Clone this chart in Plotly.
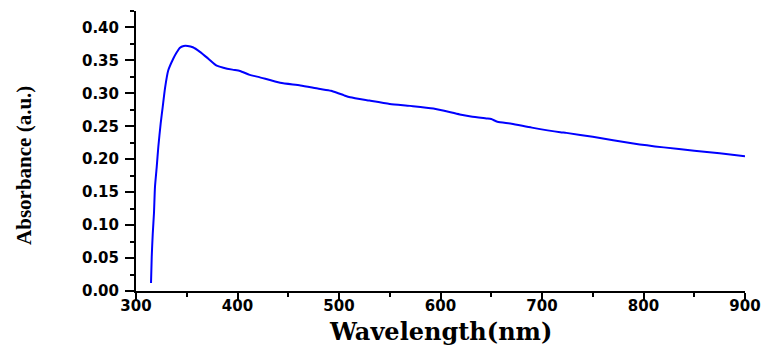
import plotly.graph_objects as go

# UV-Vis absorption spectrum
wavelength_nm = [
    314.8, 315.5, 316.5, 317.7, 318.7, 320.4, 322.0, 324.3, 326.3, 328.6,
    331.8, 336.8, 340.0, 343.0, 347.0, 351.0, 356.0, 363.0, 371.0, 379.5,
    386.0, 395.0, 402.5, 412.0, 420.5, 442.0, 462.0, 480.0, 492.0, 498.0,
    505.0, 511.0, 530.0, 550.0, 570.0, 593.0, 619.0, 630.0, 645.0, 650.0,
    656.0, 670.0, 690.0, 718.0, 724.0, 750.0, 790.0, 820.0, 850.0, 875.0,
    900.0,
]
absorbance = [
    0.012, 0.052, 0.087, 0.118, 0.158, 0.188, 0.219, 0.254, 0.279, 0.308,
    0.335, 0.353, 0.362, 0.369, 0.372, 0.372, 0.370, 0.363, 0.353, 0.342,
    0.339, 0.336, 0.334, 0.328, 0.325, 0.316, 0.312, 0.307, 0.304, 0.301,
    0.297, 0.294, 0.289, 0.284, 0.281, 0.277, 0.268, 0.265, 0.262, 0.261,
    0.257, 0.254, 0.248, 0.241, 0.240, 0.234, 0.224, 0.218, 0.213, 0.209,
    0.2045,
]

x_ticks = [300, 400, 500, 600, 700, 800, 900]
y_ticks = [0.00, 0.05, 0.10, 0.15, 0.20, 0.25, 0.30, 0.35, 0.40]

tick_font = dict(family="DejaVu Sans", size=15, color="black", weight="bold")

fig = go.Figure(
    go.Scatter(
        x=wavelength_nm,
        y=absorbance,
        mode="lines",
        line=dict(color="#0000FF", width=2, shape="spline", smoothing=0.6),
        showlegend=False,
    )
)

fig.update_layout(
    width=764,
    height=345,
    margin=dict(l=136, r=19, t=11, b=54),
    paper_bgcolor="white",
    plot_bgcolor="white",
    xaxis=dict(
        range=[300, 900],
        automargin=False,
        tickvals=x_ticks,
        ticktext=[str(v) for v in x_ticks],
        ticks="outside",
        ticklen=8,
        tickwidth=2,
        tickcolor="black",
        showline=True,
        linecolor="black",
        linewidth=2,
        showgrid=False,
        zeroline=False,
        tickfont=tick_font,
        ticklabelstandoff=-8,
        minor=dict(dtick=50, tick0=300, ticks="outside", ticklen=4,
                   tickwidth=2, tickcolor="black", showgrid=False),
    ),
    yaxis=dict(
        range=[0, 0.425],
        automargin=False,
        tickvals=y_ticks,
        ticktext=[f"{v:.2f}" for v in y_ticks],
        ticks="outside",
        ticklen=9,
        tickwidth=2,
        tickcolor="black",
        showline=True,
        linecolor="black",
        linewidth=2,
        showgrid=False,
        zeroline=False,
        tickfont=tick_font,
        ticklabelstandoff=3,
        minor=dict(dtick=0.025, tick0=0, ticks="outside", ticklen=4,
                   tickwidth=2, tickcolor="black", showgrid=False),
    ),
    annotations=[
        dict(
            text="Wavelength(nm)",
            xref="paper", yref="paper",
            x=0.5, y=-0.146,
            xanchor="center", yanchor="middle",
            showarrow=False,
            font=dict(family="DejaVu Serif", size=24, color="black",
                      weight="bold"),
        ),
        dict(
            text="Absorbance (a.u.)",
            xref="paper", yref="paper",
            x=-0.184, y=0.45,
            xanchor="center", yanchor="middle",
            textangle=-90,
            showarrow=False,
            font=dict(family="Liberation Serif", size=21, color="black",
                      weight="bold"),
        ),
    ],
)

fig.write_html("out.html")
